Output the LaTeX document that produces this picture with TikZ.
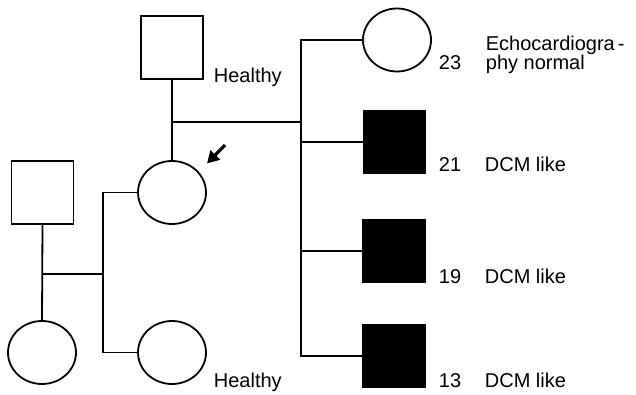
\documentclass[tikz,border=0pt]{standalone}
\usepackage{fontspec}
\setmainfont{Liberation Sans}
\usetikzlibrary{shapes.geometric,arrows.meta}
\begin{document}
\begin{tikzpicture}[x=1pt,y=-1pt,
  line width=1.8pt,
  male/.style={rectangle,draw,line width=1.8pt,minimum width=62pt,minimum height=63pt,inner sep=0pt},
  affected/.style={male,fill=black},
  female/.style={ellipse,draw,line width=1.8pt,minimum width=68pt,minimum height=63pt,inner sep=0pt},
  lbl/.style={anchor=base west,inner sep=0pt,font=\fontsize{20}{16.5}\selectfont},
  pointer/.style={-{Triangle[length=12pt,width=13pt]},line width=3.2pt}]
\useasboundingbox (0,0) rectangle (636,395);

% first generation and proband
\node[male]   (gf) at (172,47.5) {};
\node[female] (pb) at (172,192.5) {};
\node[male]   (lf) at (42.5,192.5) {};
\node[female] (ls) at (42,352.5) {};
\node[female] (s2) at (172,352.5) {};

% offspring
\node[female]   (c23) at (397,40) {};
\node[affected] (c21) at (394.5,142) {};
\node[affected] (c19) at (394,251) {};
\node[affected] (c13) at (394,356) {};

% branch points
\coordinate (m1) at (172,122);
\coordinate (j1) at (301,122);
\coordinate (m2) at (42,274);
\coordinate (j2) at (103,274);

% lines of descent
\draw (gf.south) -- (pb.north);
\draw (m1) -- (j1);
\draw (c23.west) -- (j1 |- c23) -- (j1 |- c13) -- (c13.west);
\draw (j1 |- c21) -- (c21.west);
\draw (j1 |- c19) -- (c19.west);

\draw (lf.south) -- (ls.north);
\draw (m2) -- (j2);
\draw (pb.west) -- (j2 |- pb) -- (j2 |- s2) -- (s2.west);

% proband arrow
\coordinate (atail) at (225,145);
\coordinate (atip) at (207,163.5);
\draw[pointer] (atail) -- (atip);

% labels
\node[lbl] (h1) at (213,83) {Healthy};
\node[lbl] (h2) at (213,387) {Healthy};

\node[lbl] (n23) at (438,70) {23};
\node[lbl,align=left] (t23) at (485,70) {Echocardiogra\hspace{3pt}-\\phy normal};
\node[lbl] (n21) at (438,172) {21};
\node[lbl] (t21) at (484,172) {DCM like};
\node[lbl] (n19) at (438,283) {19};
\node[lbl] (t19) at (484,283) {DCM like};
\node[lbl] (n13) at (438,387) {13};
\node[lbl] (t13) at (484,387) {DCM like};
\end{tikzpicture}
\end{document}
